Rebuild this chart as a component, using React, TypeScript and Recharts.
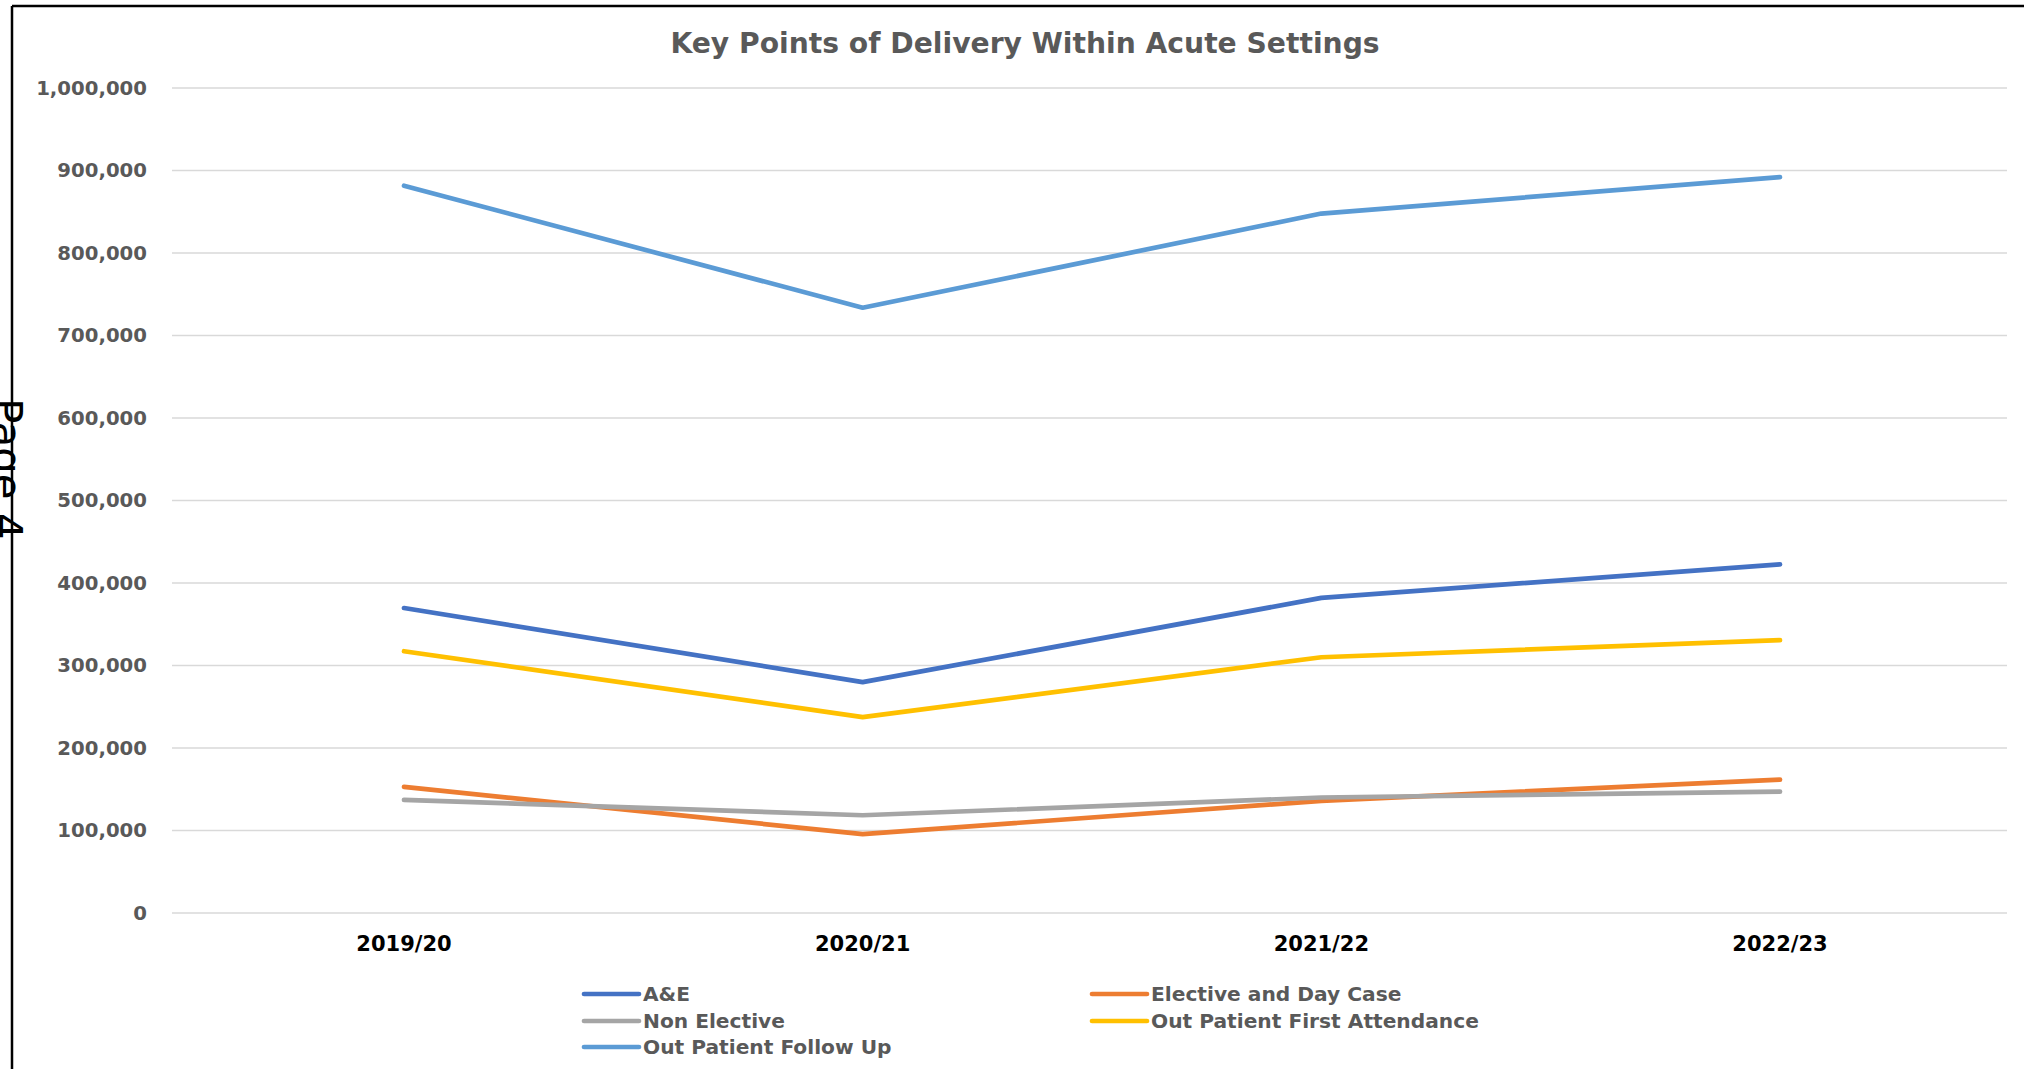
import { CartesianGrid, Line, LineChart, XAxis, YAxis } from "recharts";

// values
const years = ["2019/20", "2020/21", "2021/22", "2022/23"];
const aAndE = [369700, 279800, 381900, 422600];
const electiveDayCase = [152800, 95600, 136000, 161600];
const nonElective = [137100, 118500, 140000, 147100];
const opFirstAttendance = [317300, 237500, 310000, 330700];
const opFollowUp = [881500, 733700, 847800, 892000];
const yTicks = [0, 100000, 200000, 300000, 400000, 500000, 600000, 700000, 800000, 900000, 1000000];

const series = [
    { key: "ae", name: "A&E", color: "#4472C4", values: aAndE },
    { key: "elective", name: "Elective and Day Case", color: "#ED7D31", values: electiveDayCase },
    { key: "nonElective", name: "Non Elective", color: "#A5A5A5", values: nonElective },
    { key: "opFirst", name: "Out Patient First Attendance", color: "#FFC000", values: opFirstAttendance },
    { key: "opFollow", name: "Out Patient Follow Up", color: "#5B9BD5", values: opFollowUp },
];

const data = years.map((year, i) => {
    const row: Record<string, string | number> = { year };
    series.forEach((s) => (row[s.key] = s.values[i]));
    return row;
});

const FONT = "'DejaVu Sans', sans-serif";

// legend slots: two columns, filled row by row like Excel does
const legendCols = [584, 1092];
const legendRows = [994, 1021, 1047];

export default function App() {
    return (
        <div style={{ position: "absolute", left: 0, top: 0, width: 2024, height: 1069, background: "white" }}>
            <LineChart
                width={2024}
                height={1069}
                data={data}
                margin={{ top: 88, right: 17, bottom: 116, left: 22 }}
            >
                <CartesianGrid vertical={false} stroke="#d9d9d9" strokeWidth={1.5} />
                <XAxis
                    dataKey="year"
                    height={40}
                    padding={{ left: 232, right: 227 }}
                    axisLine={false}
                    tickLine={false}
                    tickSize={0}
                    tickMargin={23}
                    tick={{ fontFamily: FONT, fontSize: 21, fontWeight: 700, fill: "#000000" }}
                />
                <YAxis
                    width={150}
                    domain={[0, 1000000]}
                    ticks={yTicks}
                    axisLine={false}
                    tickLine={false}
                    tickSize={0}
                    tickMargin={25}
                    tickFormatter={(v: number) => v.toLocaleString("en-US")}
                    tick={{ fontFamily: FONT, fontSize: 19.7, fontWeight: 700, fill: "#595959" }}
                />
                {series.map((s) => (
                    <Line
                        key={s.key}
                        type="linear"
                        dataKey={s.key}
                        name={s.name}
                        stroke={s.color}
                        strokeWidth={4.7}
                        strokeLinecap="round"
                        strokeLinejoin="round"
                        dot={false}
                        activeDot={false}
                        isAnimationActive={false}
                    />
                ))}
            </LineChart>

            <svg
                width={2024}
                height={1069}
                style={{ position: "absolute", left: 0, top: 0, pointerEvents: "none" }}
            >
                {/* page frame */}
                <line x1={12} y1={6} x2={12} y2={1069} stroke="#000" strokeWidth={2.5} />
                <line x1={12} y1={6} x2={2024} y2={6} stroke="#000" strokeWidth={2.5} />
                <text
                    transform="translate(-8, 398) rotate(90)"
                    fontFamily={FONT}
                    fontSize={42}
                    fill="#000"
                >
                    Page 4
                </text>

                <text
                    x={1025}
                    y={43}
                    textAnchor="middle"
                    dominantBaseline="central"
                    fontFamily={FONT}
                    fontSize={28.2}
                    fontWeight={700}
                    fill="#595959"
                >
                    Key Points of Delivery Within Acute Settings
                </text>

                {series.map((s, i) => {
                    const x = legendCols[i % 2];
                    const y = legendRows[Math.floor(i / 2)];
                    return (
                        <g key={s.key}>
                            <line x1={x} y1={y} x2={x + 55} y2={y} stroke={s.color} strokeWidth={4.7} strokeLinecap="round" />
                            <text
                                x={x + 59}
                                y={y}
                                dominantBaseline="central"
                                fontFamily={FONT}
                                fontSize={20.2}
                                fontWeight={700}
                                fill="#595959"
                            >
                                {s.name}
                            </text>
                        </g>
                    );
                })}
            </svg>
        </div>
    );
}
